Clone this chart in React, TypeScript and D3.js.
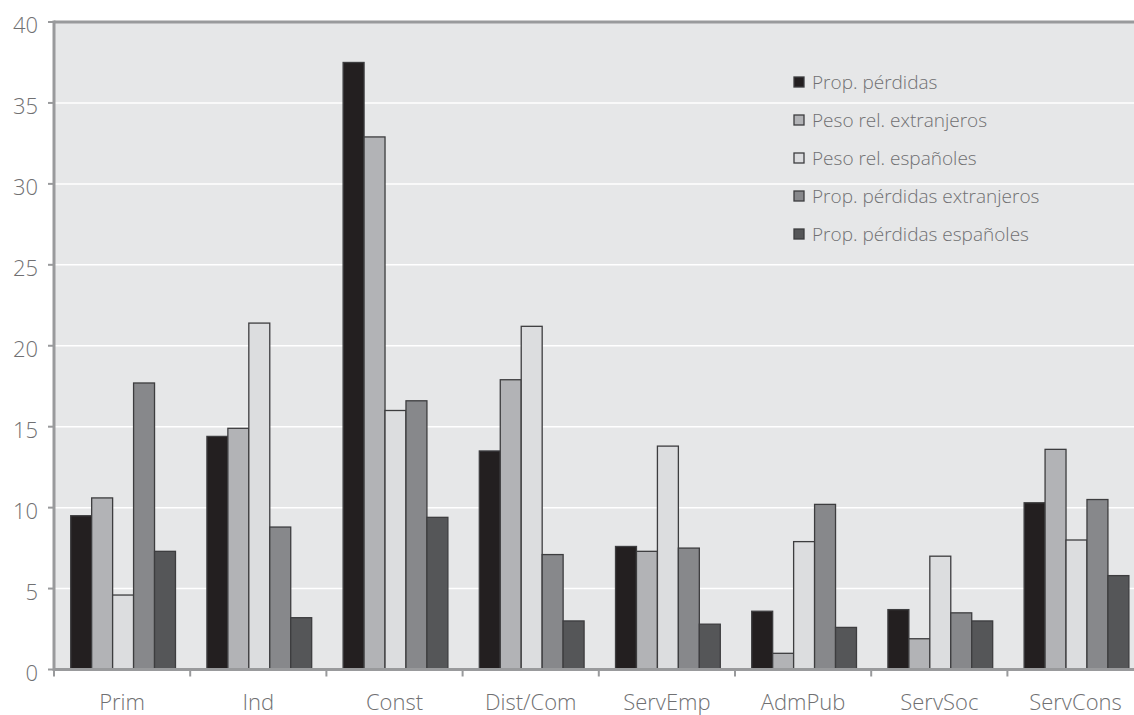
import React from "react";
import * as d3 from "d3";

const categories = ["Prim", "Ind", "Const", "Dist/Com", "ServEmp", "AdmPub", "ServSoc", "ServCons"];
const seriesNames = [
  "Prop. pérdidas",
  "Peso rel. extranjeros",
  "Peso rel. españoles",
  "Prop. pérdidas extranjeros",
  "Prop. pérdidas españoles",
];
const propPerdidas = [9.5, 14.4, 37.5, 13.5, 7.6, 3.6, 3.7, 10.3];
const pesoExtranjeros = [10.6, 14.9, 32.9, 17.9, 7.3, 1.0, 1.9, 13.6];
const pesoEspanoles = [4.6, 21.4, 16.0, 21.2, 13.8, 7.9, 7.0, 8.0];
const perdidasExtranjeros = [17.7, 8.8, 16.6, 7.1, 7.5, 10.2, 3.5, 10.5];
const perdidasEspanoles = [7.3, 3.2, 9.4, 3.0, 2.8, 2.6, 3.0, 5.8];
const yTicks = [0, 5, 10, 15, 20, 25, 30, 35, 40];

const seriesValues = [propPerdidas, pesoExtranjeros, pesoEspanoles, perdidasExtranjeros, perdidasEspanoles];
const fills = ["#231f20", "#b2b3b6", "#dcdddf", "#87888b", "#555658"];

const W = 1134;
const H = 715;
const left = 54;
const top = 22;
const bottom = 669.5;
const right = 1143.6;

export default function App() {
  const x = d3.scaleBand<string>().domain(categories).range([left, right]).paddingInner(0).paddingOuter(0);
  const inner = d3
    .scaleBand<number>()
    .domain(d3.range(seriesNames.length))
    .range([1, x.bandwidth() + 1])
    .paddingOuter(0.75)
    .paddingInner(0);
  const y = d3.scaleLinear().domain([0, 40]).range([bottom, top]);
  const font = "'Open Sans', 'Noto Sans', sans-serif";
  const axisColor = "#999a9c";
  const textColor = "#707072";

  return (
    <svg width={W} height={H} style={{ position: "fixed", left: 0, top: 0, background: "#fff" }}>
      <rect x={left} y={top} width={right - left} height={bottom - top} fill="#e6e7e8" />
      {yTicks.filter((t) => t > 0 && t < 40).map((t) => (
        <line key={t} x1={left} x2={right} y1={y(t)} y2={y(t)} stroke="#ffffff" strokeWidth={1.5} />
      ))}
      {categories.map((c, ci) => (
        <g key={c}>
          {seriesValues.map((vals, si) => {
            const bx = (x(c) as number) + (inner(si) as number);
            return (
              <rect
                key={si}
                x={bx}
                y={y(vals[ci])}
                width={inner.bandwidth()}
                height={y(0) - y(vals[ci])}
                fill={fills[si]}
                stroke="#3d3d3f"
                strokeWidth={1.3}
              />
            );
          })}
        </g>
      ))}
      {/* frame: top border, y axis, x axis */}
      <line x1={left} x2={right} y1={top} y2={top} stroke={axisColor} strokeWidth={3} />
      <line x1={left} x2={left} y1={top - 1.5} y2={bottom + 1.5} stroke={axisColor} strokeWidth={3} />
      <line x1={left} x2={right} y1={bottom} y2={bottom} stroke={axisColor} strokeWidth={3} />
      {yTicks.map((t) => (
        <g key={t}>
          <line x1={left - 6} x2={left} y1={y(t)} y2={y(t)} stroke={axisColor} strokeWidth={2} />
          <text
            x={38}
            y={y(t)}
            dy="0.5em"
            textAnchor="end"
            fontFamily={font}
            fontWeight={300}
            fontSize={22}
            fill={textColor}
          >
            {t}
          </text>
        </g>
      ))}
      {categories.map((c, ci) => (
        <g key={c}>
          <line
            x1={(x(c) as number)}
            x2={(x(c) as number)}
            y1={bottom}
            y2={bottom + 7}
            stroke={axisColor}
            strokeWidth={2}
          />
          <text
            x={(x(c) as number) + x.bandwidth() / 2}
            y={710}
            textAnchor="middle"
            fontFamily={font}
            fontWeight={300}
            fontSize={22}
            fill={textColor}
          >
            {c}
          </text>
        </g>
      ))}
      {seriesNames.map((s, i) => (
        <g key={s} transform={`translate(794, ${82 + i * 38})`}>
          <rect x={0} y={-5} width={10} height={10} fill={fills[i]} stroke="#3d3d3f" strokeWidth={1.3} />
          <text x={18} y={0} dy="0.38em" fontFamily={font} fontWeight={300} fontSize={19} fill={textColor}>
            {s}
          </text>
        </g>
      ))}
    </svg>
  );
}
